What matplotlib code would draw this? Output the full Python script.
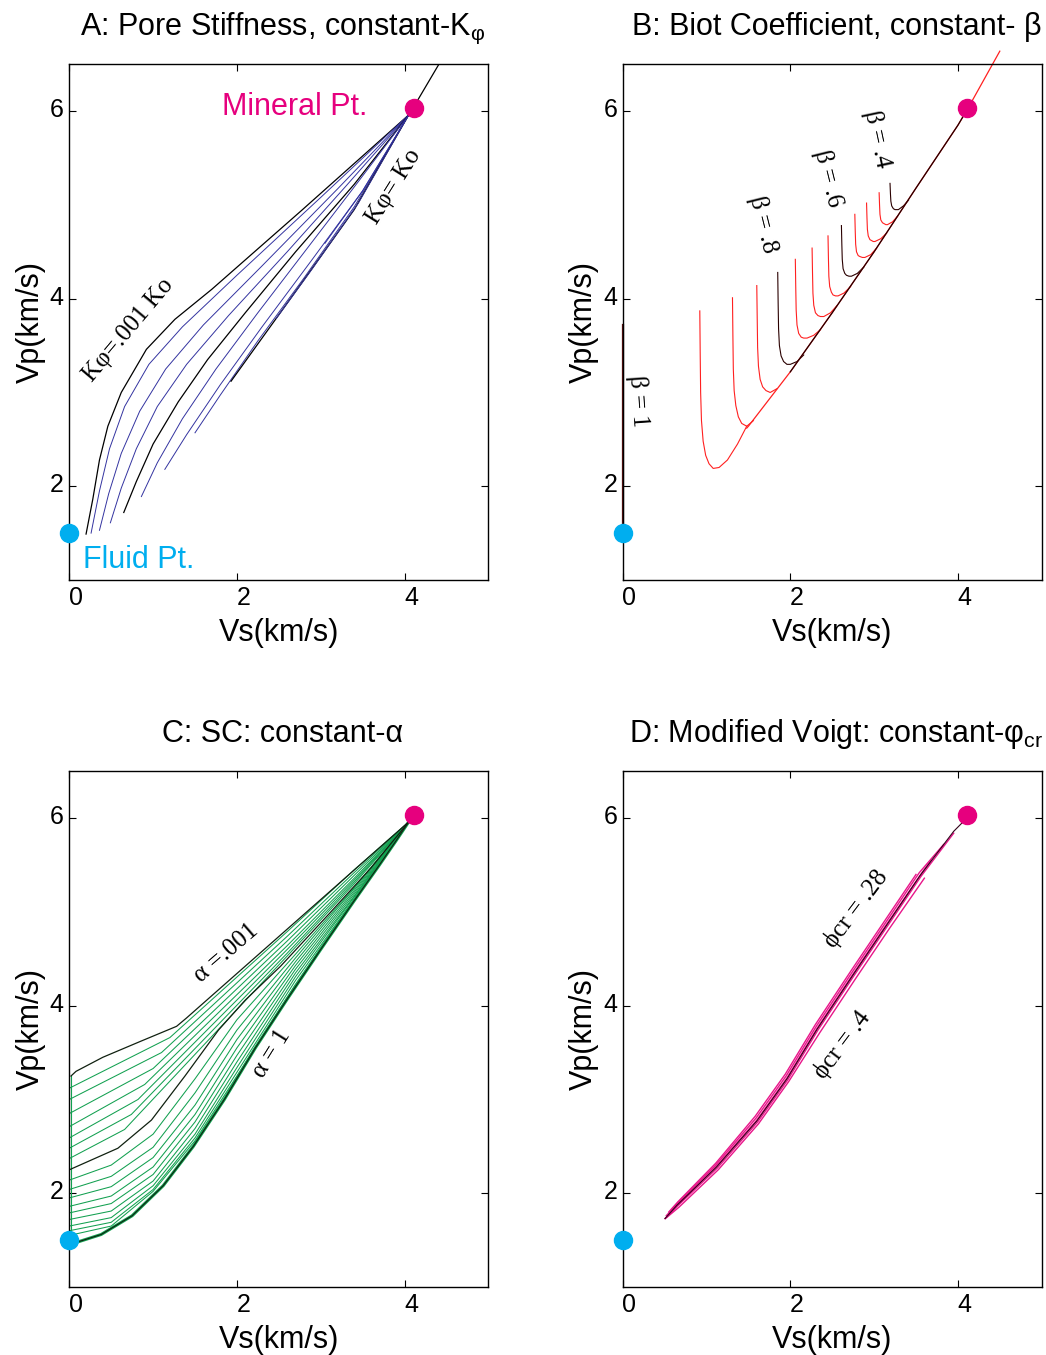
import matplotlib
matplotlib.use("Agg")
import matplotlib.pyplot as plt
from matplotlib.transforms import ScaledTranslation

plt.rcParams['font.family'] = ['Liberation Sans', 'DejaVu Sans']
plt.rcParams['mathtext.fontset'] = 'custom'
plt.rcParams['mathtext.rm'] = 'Liberation Sans'

# end points
mineral = (4.11, 6.03)
fluid = (0.0, 1.5)

# ---- panel A : constant K-phi curves (Vs, Vp)
A_curves = [
    ([0.20, 0.28, 0.36, 0.46, 0.62, 0.92, 1.26, 1.70, 2.77, 4.05], [1.49, 1.86, 2.28, 2.64, 3.00, 3.46, 3.78, 4.10, 4.94, 5.96]),
    ([0.26, 0.36, 0.48, 0.66, 0.95, 1.35, 2.00, 3.00, 4.05], [1.50, 1.95, 2.40, 2.85, 3.30, 3.70, 4.25, 5.08, 5.96]),
    ([0.36, 0.47, 0.62, 0.84, 1.15, 1.60, 2.30, 3.20, 4.05], [1.53, 1.92, 2.35, 2.80, 3.25, 3.72, 4.35, 5.17, 5.96]),
    ([0.49, 0.62, 0.80, 1.05, 1.40, 1.90, 2.60, 3.30, 4.05], [1.61, 1.98, 2.40, 2.85, 3.30, 3.82, 4.50, 5.20, 5.96]),
    ([0.65, 0.80, 1.00, 1.30, 1.65, 2.10, 2.70, 3.40, 4.05], [1.72, 2.05, 2.45, 2.90, 3.35, 3.85, 4.50, 5.22, 5.96]),
    ([0.86, 1.05, 1.35, 1.75, 2.25, 2.85, 3.45, 4.05], [1.89, 2.25, 2.72, 3.25, 3.85, 4.55, 5.25, 5.96]),
    ([1.14, 1.40, 1.80, 2.30, 2.90, 3.50, 4.05], [2.18, 2.55, 3.08, 3.70, 4.42, 5.15, 5.96]),
    ([1.50, 1.80, 2.25, 2.80, 3.40, 4.05], [2.57, 2.97, 3.55, 4.22, 4.98, 5.96]),
    ([1.93, 2.30, 2.80, 3.40, 4.05], [3.12, 3.58, 4.20, 4.95, 5.96]),
    ([2.47, 2.90, 3.45, 4.05], [3.79, 4.32, 5.02, 5.96]),
    ([3.05, 3.50, 4.05], [4.59, 5.15, 5.96]),
]
A_black = [0, 4, 8]
A_top_x = [4.08, 4.41]
A_top_y = [6.00, 6.50]

# ---- panel B : constant beta curves (vertical stem, knee, touch the envelope)
B_curves = [
    ([0.92, 0.925, 0.93, 0.94, 0.96, 0.99, 1.03, 1.08, 1.15, 1.25, 1.37, 1.48],
     [3.87, 3.40, 3.00, 2.70, 2.48, 2.33, 2.24, 2.19, 2.20, 2.28, 2.45, 2.64]),
    ([1.31, 1.315, 1.32, 1.33, 1.35, 1.38, 1.42, 1.48, 1.56], [4.01, 3.60, 3.25, 3.02, 2.86, 2.74, 2.67, 2.64, 2.70]),
    ([1.60, 1.605, 1.61, 1.62, 1.64, 1.67, 1.71, 1.76, 1.84], [4.14, 3.80, 3.48, 3.28, 3.14, 3.06, 3.02, 3.00, 3.04]),
    ([1.85, 1.855, 1.86, 1.87, 1.89, 1.92, 1.96, 2.00, 2.08, 2.16], [4.28, 3.95, 3.68, 3.50, 3.39, 3.33, 3.30, 3.30, 3.33, 3.40]),
    ([2.06, 2.065, 2.07, 2.08, 2.10, 2.13, 2.16, 2.20, 2.28, 2.36], [4.42, 4.12, 3.88, 3.72, 3.63, 3.59, 3.58, 3.58, 3.61, 3.67]),
    ([2.26, 2.265, 2.27, 2.28, 2.30, 2.33, 2.36, 2.40, 2.48, 2.56], [4.54, 4.28, 4.06, 3.93, 3.85, 3.82, 3.81, 3.81, 3.85, 3.93]),
    ([2.45, 2.455, 2.46, 2.47, 2.49, 2.51, 2.54, 2.57, 2.64, 2.72], [4.67, 4.43, 4.24, 4.13, 4.07, 4.04, 4.03, 4.03, 4.06, 4.13]),
    ([2.61, 2.615, 2.62, 2.63, 2.65, 2.67, 2.70, 2.73, 2.80, 2.88], [4.78, 4.58, 4.42, 4.32, 4.27, 4.25, 4.24, 4.24, 4.27, 4.34]),
    ([2.77, 2.775, 2.78, 2.79, 2.81, 2.83, 2.86, 2.89, 2.96, 3.03], [4.90, 4.72, 4.58, 4.50, 4.46, 4.45, 4.44, 4.44, 4.47, 4.54]),
    ([2.91, 2.915, 2.92, 2.93, 2.95, 2.97, 2.99, 3.01, 3.08, 3.15], [5.02, 4.86, 4.74, 4.67, 4.63, 4.62, 4.61, 4.61, 4.64, 4.70]),
    ([3.06, 3.065, 3.07, 3.08, 3.10, 3.12, 3.14, 3.16, 3.22, 3.28], [5.13, 5.00, 4.90, 4.84, 4.81, 4.80, 4.79, 4.79, 4.82, 4.88]),
    ([3.19, 3.195, 3.20, 3.21, 3.23, 3.25, 3.27, 3.29, 3.35, 3.41], [5.23, 5.12, 5.04, 4.99, 4.96, 4.95, 4.95, 4.95, 4.99, 5.05]),
]
B_black = [3, 7, 11]
B_env_x = [1.48, 1.50, 2.00, 2.50, 3.00, 3.50, 4.00, 4.12, 4.50]
B_env_y = [2.62, 2.64, 3.22, 3.85, 4.50, 5.18, 5.85, 6.03, 6.64]
B_one_x = [0.0, 0.0]
B_one_y = [1.5, 3.72]

# ---- panel C : constant alpha curves
C_top_x = [0.02, 0.08, 0.40, 0.85, 1.28, 1.40, 4.05]
C_top_y = [3.25, 3.30, 3.45, 3.62, 3.78, 3.87, 5.96]
C_upper = [  # between alpha=.001 and the middle black curve
    ([0.0, 1.20, 2.60, 3.40, 4.05], [3.12, 3.66, 4.79, 5.45, 5.96]),
    ([0.0, 1.10, 2.60, 3.40, 4.05], [3.00, 3.50, 4.74, 5.42, 5.96]),
    ([0.0, 1.00, 2.60, 3.40, 4.05], [2.85, 3.33, 4.69, 5.39, 5.96]),
    ([0.0, 0.90, 2.60, 3.40, 4.05], [2.71, 3.16, 4.64, 5.36, 5.96]),
    ([0.0, 0.82, 2.60, 3.40, 4.05], [2.59, 3.00, 4.60, 5.34, 5.96]),
    ([0.0, 0.74, 2.60, 3.40, 4.05], [2.48, 2.84, 4.56, 5.32, 5.96]),
    ([0.0, 0.66, 2.60, 3.40, 4.05], [2.37, 2.68, 4.53, 5.30, 5.96]),
]
C_mid_x = [0.0, 0.58, 0.98, 1.38, 1.78, 2.10, 2.52, 3.10, 3.60, 4.05]
C_mid_y = [2.25, 2.48, 2.78, 3.25, 3.74, 4.06, 4.42, 4.98, 5.47, 5.96]
C_lower = [  # between the middle black curve and alpha=1
    ([0.0, 0.50, 1.00, 1.50, 2.00, 2.70, 3.40, 4.05], [2.14, 2.30, 2.63, 3.22, 3.85, 4.55, 5.26, 5.96]),
    ([0.0, 0.50, 1.00, 1.50, 2.00, 2.70, 3.40, 4.05], [2.04, 2.18, 2.49, 3.07, 3.74, 4.51, 5.25, 5.96]),
    ([0.0, 0.50, 1.00, 1.50, 2.00, 2.70, 3.40, 4.05], [1.95, 2.07, 2.38, 2.94, 3.64, 4.47, 5.23, 5.96]),
    ([0.0, 0.50, 1.00, 1.50, 2.00, 2.70, 3.40, 4.05], [1.86, 1.97, 2.28, 2.84, 3.55, 4.43, 5.21, 5.96]),
    ([0.0, 0.50, 1.00, 1.50, 2.00, 2.70, 3.40, 4.05], [1.79, 1.89, 2.20, 2.76, 3.47, 4.39, 5.19, 5.96]),
    ([0.0, 0.50, 1.00, 1.50, 2.00, 2.70, 3.40, 4.05], [1.72, 1.81, 2.13, 2.69, 3.40, 4.35, 5.17, 5.96]),
    ([0.0, 0.50, 1.00, 1.50, 2.00, 2.70, 3.40, 4.05], [1.65, 1.74, 2.08, 2.63, 3.34, 4.31, 5.16, 5.96]),
    ([0.0, 0.50, 1.00, 1.50, 2.00, 2.70, 3.40, 4.05], [1.60, 1.69, 2.04, 2.59, 3.29, 4.27, 5.14, 5.96]),
    ([0.0, 0.50, 1.00, 1.50, 2.00, 2.70, 3.40, 4.05], [1.55, 1.65, 2.02, 2.56, 3.25, 4.23, 5.13, 5.96]),
]
C_env_x = [0.0, 0.10, 0.38, 0.75, 1.12, 1.48, 1.85, 2.22, 2.60, 3.00, 3.40, 3.70, 3.90, 4.05]
C_env_y = [1.50, 1.48, 1.56, 1.76, 2.08, 2.50, 3.00, 3.55, 4.07, 4.60, 5.12, 5.50, 5.76, 5.96]
C_edge_x = [0.02, 0.02]
C_edge_y = [1.50, 3.25]

# ---- panel D : constant phi_cr curves
D_curves = [
    ([0.55, 0.66, 1.11, 1.58, 1.94, 2.30, 2.73, 3.13, 3.50], [1.80, 1.91, 2.32, 2.82, 3.27, 3.80, 4.38, 4.91, 5.40]),
    ([0.52, 0.65, 1.11, 1.59, 1.95, 2.31, 2.74, 3.14, 3.54, 3.83], [1.76, 1.89, 2.30, 2.80, 3.25, 3.78, 4.36, 4.89, 5.42, 5.72]),
    ([0.505, 0.65, 1.13, 1.61, 1.97, 2.33, 2.76, 3.16, 3.56, 3.95], [1.73, 1.86, 2.27, 2.76, 3.21, 3.74, 4.32, 4.85, 5.38, 5.84]),
    ([0.51, 0.67, 1.14, 1.62, 1.98, 2.35, 2.78, 3.18, 3.60], [1.73, 1.85, 2.25, 2.74, 3.19, 3.71, 4.29, 4.82, 5.36]),
    ([0.53, 0.66, 1.12, 1.60, 1.96, 2.32, 2.75, 3.15, 3.58, 3.68], [1.75, 1.88, 2.29, 2.78, 3.23, 3.76, 4.34, 4.87, 5.43, 5.55]),
]
D_mid_x = [0.505, 0.645, 1.12, 1.60, 1.96, 2.32, 2.75, 3.15, 3.55, 3.95, 4.05]
D_mid_y = [1.73, 1.87, 2.28, 2.77, 3.22, 3.75, 4.33, 4.86, 5.39, 5.86, 5.95]

pink = '#e6007e'
cyan = '#00aeef'
green = '#12a050'
serif = ['Liberation Serif', 'DejaVu Serif']

fig = plt.figure(figsize=(10.46, 13.55), dpi=100)
W, H = 419 / 1046, 515.7 / 1355
axA = fig.add_axes([69.3 / 1046, 1 - 580 / 1355, W, H])
axB = fig.add_axes([622.7 / 1046, 1 - 580 / 1355, W, H])
axC = fig.add_axes([69.3 / 1046, 1 - 1287 / 1355, W, H])
axD = fig.add_axes([622.7 / 1046, 1 - 1287 / 1355, W, H])

titles = ['A: Pore Stiffness, constant-K$_\\mathregular{φ}$',
          'B: Biot Coefficient, constant- β',
          'C: SC: constant-α',
          'D: Modified Voigt: constant-φ$_\\mathregular{cr}$']

for ax, t in zip([axA, axB, axC, axD], titles):
    ax.set_xlim(0, 5)
    ax.set_ylim(1, 6.5)
    ax.set_xticks([0, 2, 4])
    ax.set_yticks([2, 4, 6])
    ax.tick_params(direction='in', top=True, right=True, length=5, width=0.8,
                   labelsize=18, pad=4)
    for s in ax.spines.values():
        s.set_linewidth(1.0)
    ax.set_xlabel('Vs(km/s)', fontsize=22, labelpad=6)
    ax.set_ylabel('Vp(km/s)', fontsize=22, labelpad=3)
    ax.text(0.51, 1.057, t, transform=ax.transAxes, ha='center', va='baseline', fontsize=22)
    for lab in ax.get_xticklabels():
        lab.set_transform(lab.get_transform() + ScaledTranslation(0.065, 0, fig.dpi_scale_trans))
    for lab in ax.get_yticklabels():
        lab.set_transform(lab.get_transform() + ScaledTranslation(0, 0.035, fig.dpi_scale_trans))

# A
for i, (x, y) in enumerate(A_curves):
    axA.plot(x, y, color='black' if i in A_black else '#3333a0', lw=0.9 if i in A_black else 0.7)
axA.plot(A_top_x, A_top_y, color='black', lw=0.9)
axA.plot(*mineral, 'o', ms=13, color=pink, zorder=5)
axA.plot(*fluid, 'o', ms=13, color=cyan, zorder=5, clip_on=False)
axA.text(2.695, 5.954, 'Mineral Pt.', color=pink, fontsize=22, ha='center', va='baseline')
axA.text(0.167, 1.13, 'Fluid Pt.', color=cyan, fontsize=22, ha='left', va='baseline')
axA.text(0.71, 3.67, 'Kφ=.001 Ko', family=serif, fontsize=18, rotation=50, ha='center', va='center')
axA.text(3.87, 5.19, 'Kφ= Ko', family=serif, fontsize=18, rotation=58, ha='center', va='center')

# B
for i, (x, y) in enumerate(B_curves):
    axB.plot(x, y, color='#2a0000' if i in B_black else '#ff2020', lw=0.8)
axB.plot(B_env_x, B_env_y, color='#ff2020', lw=0.9, clip_on=False)
axB.plot(B_env_x[2:8], B_env_y[2:8], color='#200000', lw=0.9)
axB.plot(B_one_x, B_one_y, color='#5a1010', lw=1.6, clip_on=False)
axB.plot(*mineral, 'o', ms=13, color=pink, zorder=5)
axB.plot(*fluid, 'o', ms=13, color=cyan, zorder=5, clip_on=False)
axB.text(3.04, 5.70, 'β = .4', family=serif, fontsize=18, rotation=-78, ha='center', va='center')
axB.text(2.45, 5.28, 'β = .6', family=serif, fontsize=18, rotation=-76, ha='center', va='center')
axB.text(1.68, 4.79, 'β = .8', family=serif, fontsize=18, rotation=-76, ha='center', va='center')
axB.text(0.19, 2.91, 'β = 1', family=serif, fontsize=18, rotation=-86, ha='center', va='center')

# C
axC.plot(C_edge_x, C_edge_y, color=green, lw=0.8)
for x, y in C_upper + C_lower:
    axC.plot(x, y, color=green, lw=0.75)
axC.plot(C_env_x, C_env_y, color=green, lw=2.2)
axC.plot(C_env_x, C_env_y, color='#102010', lw=0.8)
axC.plot(C_mid_x, C_mid_y, color='#102010', lw=0.9)
axC.plot(C_top_x, C_top_y, color='#102010', lw=0.9)
axC.plot(*mineral, 'o', ms=13, color=pink, zorder=5)
axC.plot(*fluid, 'o', ms=13, color=cyan, zorder=5, clip_on=False)
axC.text(1.87, 4.56, 'α =.001', family=serif, fontsize=18, rotation=41, ha='center', va='center')
axC.text(2.42, 3.49, 'α = 1', family=serif, fontsize=18, rotation=58, ha='center', va='center')

# D
for x, y in D_curves:
    axD.plot(x, y, color='#e8168a', lw=1.0)
axD.plot(D_mid_x, D_mid_y, color='#300018', lw=0.8)
axD.plot(*mineral, 'o', ms=13, color=pink, zorder=5)
axD.plot(*fluid, 'o', ms=13, color=cyan, zorder=5, clip_on=False)
axD.text(2.78, 5.03, 'ϕcr = .28', family=serif, fontsize=18, rotation=53, ha='center', va='center')
axD.text(2.62, 3.58, 'ϕcr = .4', family=serif, fontsize=18, rotation=53, ha='center', va='center')

fig.savefig('out.png', dpi=100)
